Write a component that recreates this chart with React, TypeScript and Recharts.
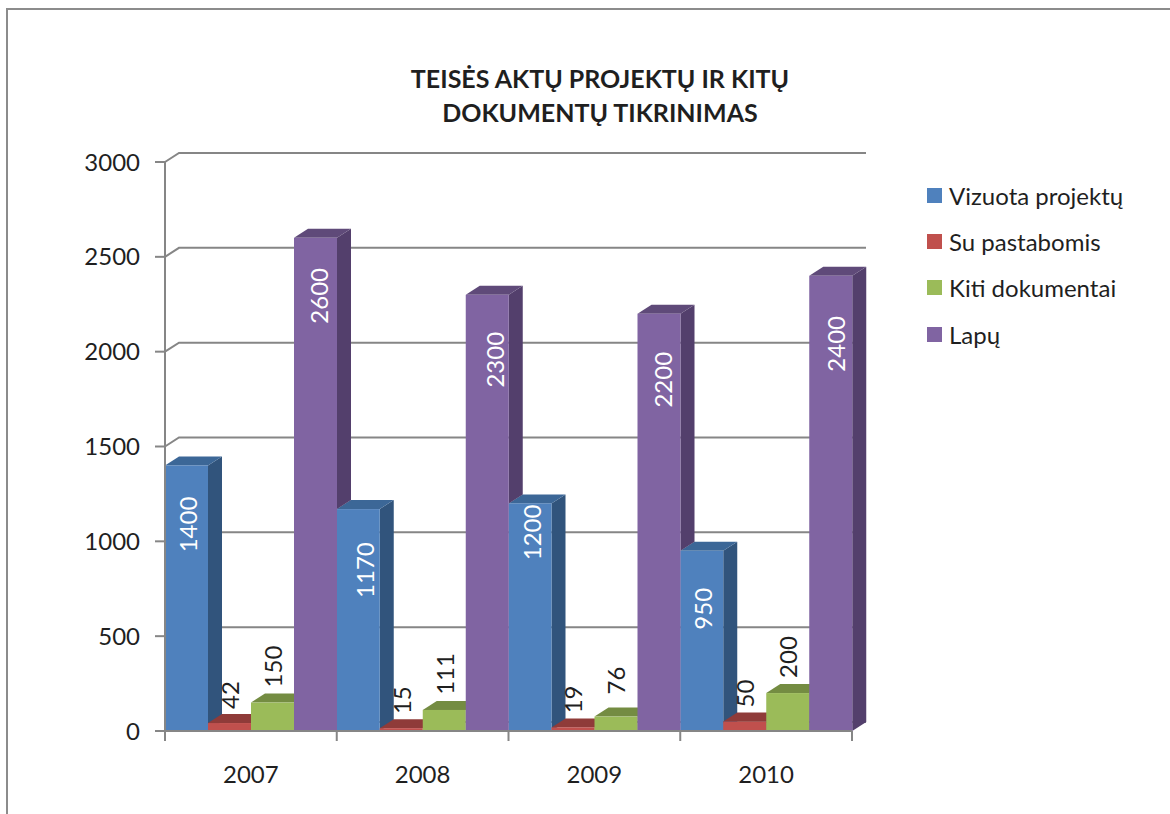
import { BarChart, Bar, XAxis, YAxis, CartesianGrid, Legend, LabelList } from "recharts";

const categories = ["2007", "2008", "2009", "2010"];
const vizuota = [1400, 1170, 1200, 950];
const pastabos = [42, 15, 19, 50];
const kiti = [150, 111, 76, 200];
const lapu = [2600, 2300, 2200, 2400];
const yTicks = [0, 500, 1000, 1500, 2000, 2500, 3000];
const titleLines = ["TEISĖS AKTŲ PROJEKTŲ IR KITŲ", "DOKUMENTŲ TIKRINIMAS"];

const data = categories.map((year, i) => ({
  year,
  vizuota: vizuota[i],
  pastabos: pastabos[i],
  kiti: kiti[i],
  lapu: lapu[i],
}));

const FONT = "Lato, 'Open Sans', sans-serif";
const GRID = "#868686";
const TEXT = "#1f1f1f";
const DX = 14;
const DY = 9;
const PLOT_W = 687;

// hand placed white labels: drop under the bar top, nudge from the bar centre
const blueLabelDrop = [59, 61, 29, 58];
const blueLabelNudge = [1.5, 6, 2, 0.5];
const purpleLabelDrop = [58, 65, 66, 68];
const purpleLabelNudge = [3, 7, 4, 4.5];

const Box3D = ({ x, y, width, height, fill, topFill, sideFill, coverY }: any) => {
  const bottom = coverY ?? y + height;
  return (
    <g>
      <polygon
        points={`${x + width},${y} ${x + width + DX},${y - DY} ${x + width + DX},${bottom - DY} ${x + width},${bottom}`}
        fill={sideFill}
      />
      <polygon
        points={`${x},${y} ${x + DX},${y - DY} ${x + width + DX},${y - DY} ${x + width},${y}`}
        fill={topFill}
      />
      <rect x={x} y={y} width={width} height={height} fill={fill} />
    </g>
  );
};

// the side of a purple bar stops where the next blue bar starts
const purpleShape = (props: any) => {
  const { y, height, index } = props;
  const next = vizuota[index + 1];
  const coverY = next === undefined ? undefined : y + height - (next * height) / lapu[index];
  return <Box3D {...props} topFill="#5f4a79" sideFill="#533f6c" coverY={coverY} />;
};

const rotatedLabel =
  (color: string, place: (box: any, index: number) => number, nudge?: number[]) => (props: any) => {
    const box = props.viewBox ?? props;
    const cx = box.x + box.width / 2 + (nudge ? nudge[props.index] : 0);
    const cy = place(box, props.index);
    return (
      <text
        x={cx}
        y={cy}
        transform={`rotate(-90 ${cx} ${cy})`}
        textAnchor="middle"
        dominantBaseline="central"
        fill={color}
        fontFamily={FONT}
        fontSize={24}
      >
        {props.value}
      </text>
    );
  };

const gridLine = (props: any) => {
  const { x1, x2, y1 } = props;
  return (
    <polyline
      points={`${x1},${y1} ${x1 + DX},${y1 - DY} ${x2 + DX},${y1 - DY}`}
      fill="none"
      stroke={GRID}
      strokeWidth={2}
    />
  );
};

const yearTick = (props: any) => {
  const { x, y, payload, index } = props;
  const band = PLOT_W / categories.length;
  const left = x - band / 2;
  return (
    <g>
      <line x1={left} x2={left} y1={y} y2={y + 10} stroke={GRID} strokeWidth={2} />
      {index === categories.length - 1 && (
        <line x1={left + band} x2={left + band} y1={y} y2={y + 10} stroke={GRID} strokeWidth={2} />
      )}
      <text x={x} y={y + 42} textAnchor="middle" dominantBaseline="central" fill={TEXT} fontFamily={FONT} fontSize={24}>
        {payload.value}
      </text>
    </g>
  );
};

const legendContent = ({ payload }: any) => (
  <div>
    {(payload || []).map((item: any) => (
      <div key={item.value} style={{ display: "flex", alignItems: "center", height: 46.3 }}>
        <span style={{ width: 15, height: 15, background: item.color, marginRight: 7 }} />
        <span style={{ fontFamily: FONT, fontSize: 24, color: TEXT, whiteSpace: "nowrap" }}>{item.value}</span>
      </div>
    ))}
  </div>
);

export default function App() {
  return (
    <div style={{ position: "absolute", left: 0, top: 0, width: 1170, height: 814, overflow: "hidden", background: "#fff" }}>
      <div
        style={{
          position: "absolute",
          left: 6,
          top: 8,
          right: -4,
          bottom: -4,
          borderLeft: "2px solid #8c8c8c",
          borderTop: "2px solid #8c8c8c",
        }}
      />
      <BarChart
        width={1170}
        height={814}
        data={data}
        margin={{ top: 162, right: 318, bottom: 0, left: 0 }}
        barCategoryGap={0}
        barGap={0}
        style={{ position: "absolute", left: 0, top: 0 }}
      >
        <CartesianGrid vertical={false} horizontal={gridLine} />
        <XAxis
          dataKey="year"
          height={83}
          axisLine={{ stroke: GRID, strokeWidth: 2 }}
          tickLine={false}
          tickSize={0}
          tickMargin={0}
          tick={yearTick}
          interval={0}
        />
        <YAxis
          width={165}
          domain={[0, 3000]}
          ticks={yTicks}
          interval={0}
          axisLine={{ stroke: GRID, strokeWidth: 2 }}
          tickLine={{ stroke: GRID, strokeWidth: 2 }}
          tickSize={10}
          tickMargin={15}
          tick={{ fill: TEXT, fontFamily: FONT, fontSize: 24 }}
        />
        <Legend
          layout="vertical"
          align="center"
          verticalAlign="middle"
          itemSorter={null}
          content={legendContent}
          wrapperStyle={{ left: 927, top: 172, width: 235 }}
        />
        <Bar
          dataKey="vizuota"
          name="Vizuota projektų"
          fill="#4f81bd"
          isAnimationActive={false}
          shape={(p: any) => <Box3D {...p} topFill="#3c6797" sideFill="#31547c" />}
        >
          <LabelList dataKey="vizuota" content={rotatedLabel("#fff", (b, i) => b.y + blueLabelDrop[i], blueLabelNudge)} />
        </Bar>
        <Bar
          dataKey="pastabos"
          name="Su pastabomis"
          fill="#c0504d"
          isAnimationActive={false}
          shape={(p: any) => <Box3D {...p} topFill="#8f3b39" sideFill="#7d3331" />}
        >
          <LabelList dataKey="pastabos" content={rotatedLabel(TEXT, (b) => b.y - 28)} />
        </Bar>
        <Bar
          dataKey="kiti"
          name="Kiti dokumentai"
          fill="#9bbb59"
          isAnimationActive={false}
          shape={(p: any) => <Box3D {...p} topFill="#748c42" sideFill="#5f7536" />}
        >
          <LabelList dataKey="kiti" content={rotatedLabel(TEXT, (b) => b.y - 36)} />
        </Bar>
        <Bar dataKey="lapu" name="Lapų" fill="#8064a2" isAnimationActive={false} shape={purpleShape}>
          <LabelList dataKey="lapu" content={rotatedLabel("#fff", (b, i) => b.y + purpleLabelDrop[i], purpleLabelNudge)} />
        </Bar>
        <text textAnchor="middle" fontFamily={FONT} fontWeight={700} fontSize={25} fill={TEXT}>
          {titleLines.map((line, i) => (
            <tspan key={line} x={600} y={88 + i * 34}>
              {line}
            </tspan>
          ))}
        </text>
      </BarChart>
    </div>
  );
}
